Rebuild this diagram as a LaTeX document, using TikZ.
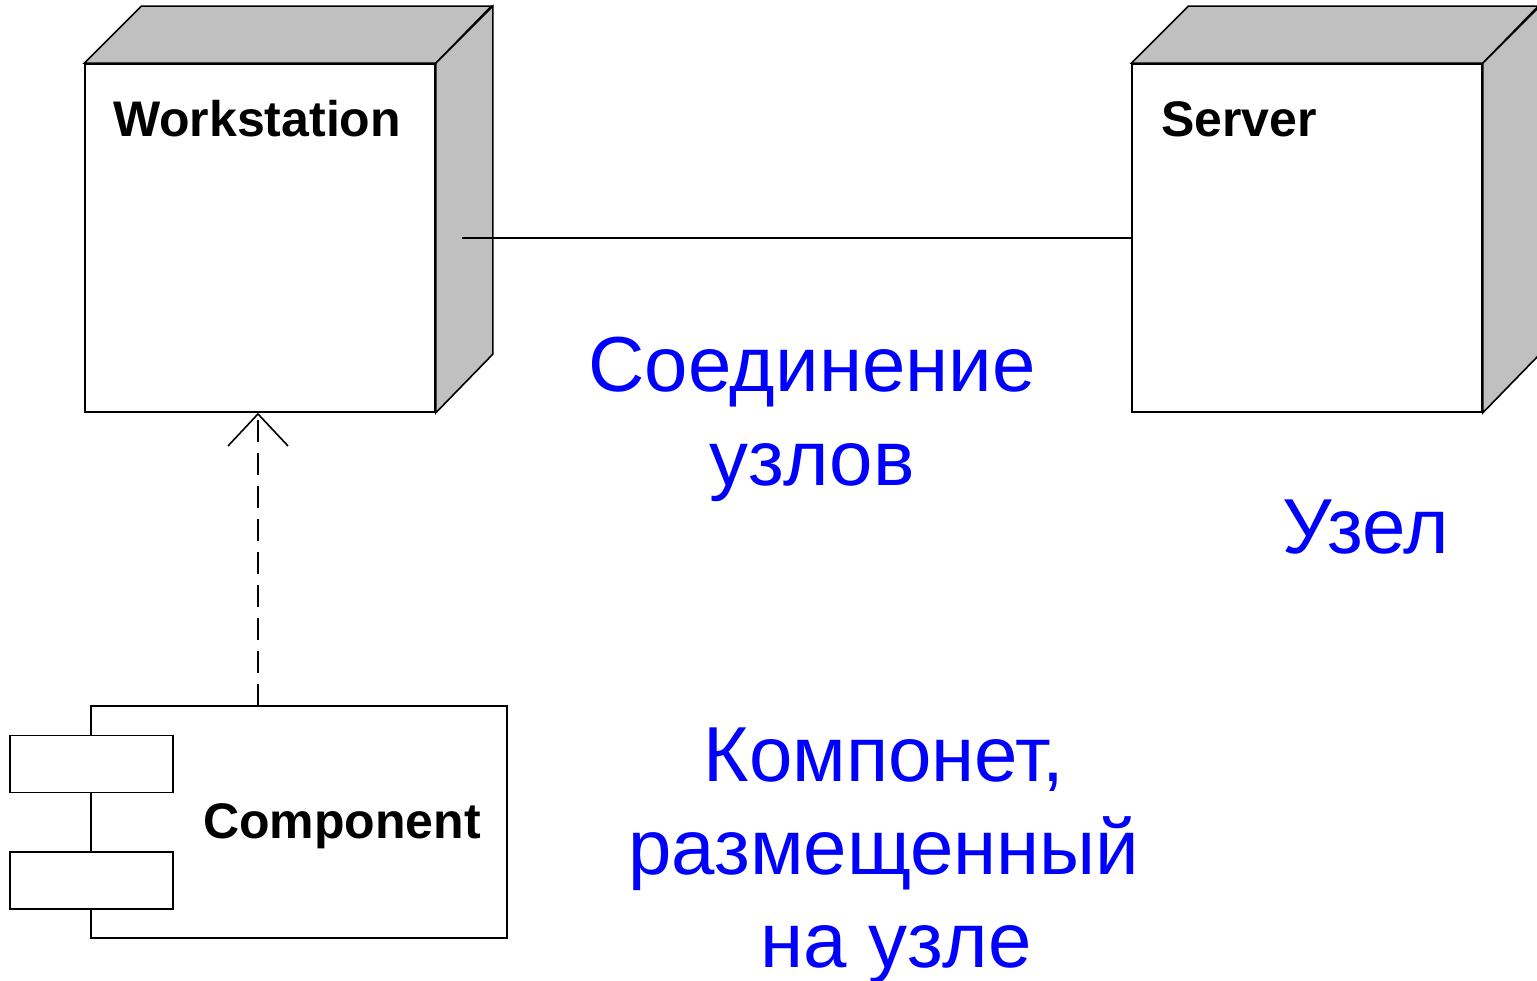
\documentclass[tikz,border=0pt]{standalone}
\usepackage{fontspec}
\setmainfont{Liberation Sans}
\usetikzlibrary{arrows.meta}
\definecolor{sidegrey}{RGB}{192,192,192}
\definecolor{labelblue}{RGB}{0,0,255}
\begin{document}
\begin{tikzpicture}[x=1pt,y=-1pt,
  edge/.style={line width=1.6pt,black},
  face/.style={draw=black,line width=1.6pt,fill=white,inner sep=0pt},
  shade/.style={draw=black,line width=1.6pt,fill=sidegrey,line join=miter},
  title/.style={font=\bfseries\fontsize{50}{60}\selectfont,anchor=base},
  note/.style={font=\fontsize{78}{93}\selectfont,text=labelblue,anchor=base,align=center}]
\useasboundingbox[clip] (0,0) rectangle (1537,981);
% Workstation node
\node[face,minimum width=350pt,minimum height=348pt] (ws) at (260,238) {};
\draw[shade] (ws.north west) -- ++(57,-57) -- ++(350,0) -- (ws.north east) -- cycle;
\draw[shade] (ws.north east) -- ++(57,-57) -- ++(0,348) -- (ws.south east) -- cycle;
\node[title] (wst) at (257,137) {Workstation};
% Server node
\node[face,minimum width=350pt,minimum height=348pt] (sv) at (1307,238) {};
\draw[shade] (sv.north west) -- ++(57,-57) -- ++(350,0) -- (sv.north east) -- cycle;
\draw[shade] (sv.north east) -- ++(57,-57) -- ++(0,348) -- (sv.south east) -- cycle;
\node[title] (svt) at (1239,137) {Server};
% Connection
\coordinate (wsc) at (462,238);
\draw[edge] (wsc) -- (sv.west);
% Component
\node[face,minimum width=416pt,minimum height=232pt] (comp) at (299,822) {};
\node[face,minimum width=163pt,minimum height=57pt] (p1) at (91.5,764) {};
\node[face,minimum width=163pt,minimum height=57pt] (p2) at (91.5,880.5) {};
\node[title] (compt) at (342,838) {Component};
% Dependency
\coordinate (dep) at (258,706);
\draw[edge,dash pattern=on 22pt off 11pt,-{Straight Barb[length=32pt,width=60pt,line width=1.6pt]}] (dep) -- (dep |- ws.south);
% Notes
\node[note] (n1) at (812,485) {Соединение\\узлов};
\node[note] (n2) at (1366,553) {Узел};
\node[note] (n3) at (884,967) {Компонет,\\размещенный\\\hspace*{24pt}на узле};
\end{tikzpicture}
\end{document}
